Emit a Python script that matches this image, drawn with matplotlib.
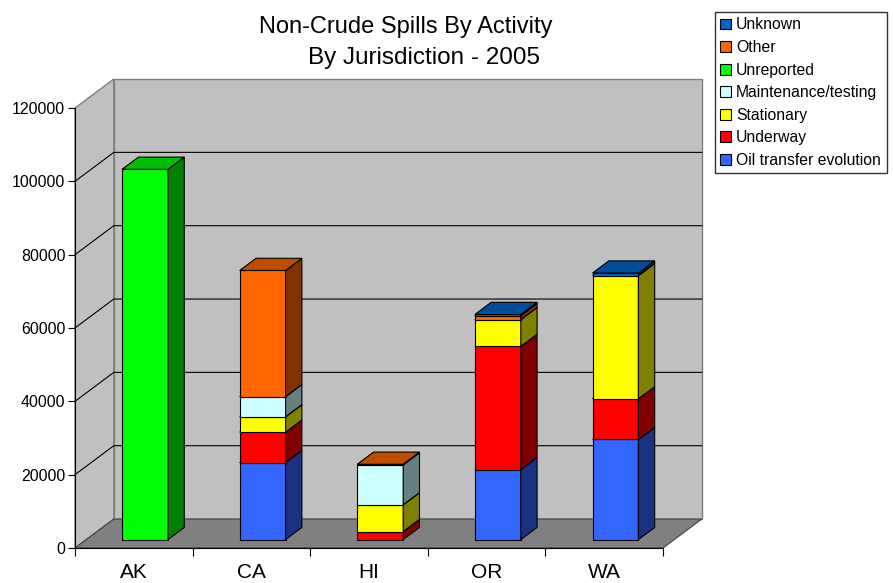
import numpy as np
import matplotlib.pyplot as plt
from matplotlib.patches import Polygon, Patch

plt.rcParams['font.family'] = ['Liberation Sans', 'DejaVu Sans']

# data (gallons) per jurisdiction, stacked bottom -> top
categories = ['AK', 'CA', 'HI', 'OR', 'WA']
oil_transfer = [0, 21000, 0, 19100, 27300]
underway = [0, 8300, 2200, 33600, 11100]
stationary = [0, 4200, 7300, 7300, 33600]
maintenance = [0, 5500, 10900, 0, 0]
unreported = [101000, 0, 0, 0, 0]
other = [0, 34400, 150, 1100, 0]
unknown = [0, 0, 0, 300, 700]

series_names = ['Oil transfer evolution', 'Underway', 'Stationary',
                'Maintenance/testing', 'Unreported', 'Other', 'Unknown']
series_values = [oil_transfer, underway, stationary, maintenance,
                 unreported, other, unknown]
series_colors = ['#3366FF', '#FF0000', '#FFFF00', '#CCFFFF',
                 '#00FF00', '#FF6600', '#0066CC']

yticks = [0, 20000, 40000, 60000, 80000, 100000, 120000]

# fake 3d look: depth offset in data units
DX = 0.33
DY = 7900
BAR_W = 0.39
F0, F1 = 0.29, 0.71   # front / back of bars as fraction of depth


def shade(color, k):
    r, g, b = plt.matplotlib.colors.to_rgb(color)
    return (r * k, g * k, b * k)


fig = plt.figure(figsize=(8.93, 5.83), dpi=100)
ax = fig.add_axes([75 / 893, 35 / 583, 588 / 893, 440 / 583])
ax.set_xlim(-0.5, len(categories) - 0.5)
ax.set_ylim(0, 120000)
ax.patch.set_visible(False)

x0, x1 = -0.5, len(categories) - 0.5
ymax = yticks[-1]

# walls and floor
left_wall = Polygon([(x0, 0), (x0 + DX, DY), (x0 + DX, ymax + DY), (x0, ymax)],
                    closed=True, fc='#C0C0C0', ec='#808080', lw=1, zorder=0, clip_on=False)
back_wall = Polygon([(x0 + DX, DY), (x1 + DX, DY), (x1 + DX, ymax + DY), (x0 + DX, ymax + DY)],
                    closed=True, fc='#C0C0C0', ec='#808080', lw=1, zorder=0, clip_on=False)
floor = Polygon([(x0, 0), (x1, 0), (x1 + DX, DY), (x0 + DX, DY)],
                closed=True, fc='#808080', ec='#404040', lw=0.8, zorder=0.5, clip_on=False)
for p in (left_wall, back_wall, floor):
    ax.add_patch(p)

# gridlines on both walls
for v in yticks[1:-1]:
    ax.plot([x0, x0 + DX, x1 + DX], [v, v + DY, v + DY], color='black', lw=0.8,
            zorder=0.6, clip_on=False)

# stacked boxes
for i in range(len(categories)):
    bottom = 0
    left = i - BAR_W / 2
    right = i + BAR_W / 2
    for vals, col in zip(series_values, series_colors):
        h = vals[i]
        if h <= 0:
            continue
        top = bottom + h
        fx0, fx1 = left + F0 * DX, right + F0 * DX
        bx1 = right + F1 * DX
        fy0, fy1 = bottom + F0 * DY, top + F0 * DY
        by0, by1 = bottom + F1 * DY, top + F1 * DY
        front = Polygon([(fx0, fy0), (fx1, fy0), (fx1, fy1), (fx0, fy1)],
                        fc=col, ec='black', lw=0.8, zorder=2, clip_on=False)
        side = Polygon([(fx1, fy0), (bx1, by0), (bx1, by1), (fx1, fy1)],
                       fc=shade(col, 0.5), ec='black', lw=0.8, zorder=2, clip_on=False)
        cap = Polygon([(fx0, fy1), (fx1, fy1), (bx1, by1), (left + F1 * DX, by1)],
                      fc=shade(col, 0.75), ec='black', lw=0.8, zorder=2, clip_on=False)
        for p in (front, side, cap):
            ax.add_patch(p)
        bottom = top

# axes styling
for s in ('top', 'right'):
    ax.spines[s].set_visible(False)
ax.spines['left'].set_linewidth(0.8)
ax.spines['bottom'].set_linewidth(0.8)
ax.spines['left'].set_zorder(1)
ax.spines['bottom'].set_zorder(1)

ax.set_yticks(yticks)
ax.set_yticklabels([str(v) for v in yticks])
ax.tick_params(axis='y', length=5, width=0.8, pad=2, labelsize=11.5)

ax.set_xticks(np.arange(len(categories) + 1) - 0.5)
ax.set_xticklabels([])
ax.tick_params(axis='x', which='major', length=6, width=0.8)
ax.set_xticks(np.arange(len(categories)), minor=True)
ax.set_xticklabels(categories, minor=True)
ax.tick_params(axis='x', which='minor', length=0, pad=11, labelsize=15)

# two-line title
fig.text(406 / 893, 1 - 33 / 583, 'Non-Crude Spills By Activity',
         ha='center', va='baseline', fontsize=17)
fig.text(424 / 893, 1 - 64 / 583, 'By Jurisdiction - 2005',
         ha='center', va='baseline', fontsize=17.5)

handles = [Patch(fc=c, ec='black', lw=0.8) for c in series_colors][::-1]
leg = fig.legend(handles, series_names[::-1], loc='upper left',
                 bbox_to_anchor=(715 / 893, 1 - 12 / 583), fontsize=11.3,
                 frameon=True, fancybox=False, handlelength=0.7, handleheight=0.7,
                 handletextpad=0.3, labelspacing=0.48, borderpad=0.35,
                 borderaxespad=0)
leg.get_frame().set_edgecolor('black')
leg.get_frame().set_linewidth(1)

fig.savefig('out.png', dpi=100)
